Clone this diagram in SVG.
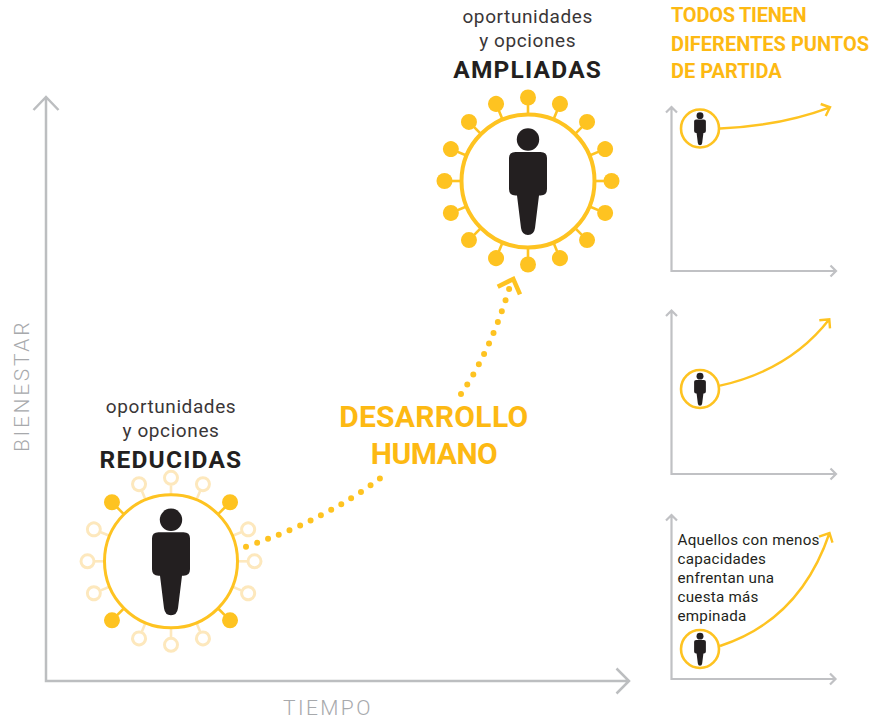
<svg xmlns="http://www.w3.org/2000/svg" width="870" height="720" viewBox="0 0 870 720">
<style>
text{font-family:"Roboto","Liberation Sans",sans-serif}
.axis{fill:none;stroke:#bcbec0;stroke-width:2.5}
.axs{fill:none;stroke:#c0c1c4;stroke-width:2.2}
.lab{fill:#a7a9ac;font-size:21px;font-weight:300}
.op{fill:#3a3637;font-size:19px;text-anchor:middle;letter-spacing:.6px}
.big{fill:#231f20;font-size:24.5px;font-weight:700;text-anchor:middle;letter-spacing:1.2px}
.dh{fill:#fdb913;font-size:30px;font-weight:700;text-anchor:middle}
.tt{fill:#fdb913;font-size:20px;font-weight:700}
.sm{fill:#231f20;font-size:15.2px;letter-spacing:.25px}
.ring{fill:#fff;stroke:#fec321;stroke-width:4}
.ringl{fill:#fff;stroke:#fec321;stroke-width:3}
.ringm{fill:#fff;stroke:#fec321;stroke-width:2.6}
.curve{fill:none;stroke:#fec321;stroke-width:2.4}
.dots{fill:none;stroke:#fec321;stroke-width:6;stroke-linecap:round;stroke-dasharray:0 11.6}
.head{fill:none;stroke:#fec321;stroke-width:4.500}
.solid line{stroke:#fec321;stroke-width:2.6}
.solid circle{fill:#fec321}
.hollow line{stroke:#fde8bd;stroke-width:2.6}
.hollow circle{fill:#fff;stroke:#fde8bd;stroke-width:3}
</style>
<defs>
<g id="person" fill="#231f20">
<circle cx="0" cy="-41.5" r="11.2"/>
<path d="M-12.5,-29H12.5Q19,-29 19,-23V8Q19,14.5 12.5,14.5H11L7,47Q6,54 0,54Q-6,54 -7,47L-11,14.5H-12.5Q-19,14.5 -19,8V-23Q-19,-29 -12.5,-29Z"/>
</g>
<g id="sats" class="solid"><line y1="-66" y2="-80"/><circle cy="-83.5" r="8"/></g>
<g id="sath" class="hollow"><line y1="-66" y2="-76"/><circle cy="-83.5" r="6.5"/></g>
</defs>

<g id="connectors">
<path class="axis" d="M46,97V681H629M33.500,110L46,97L58.500,110M616.500,668.500L629,681L616.500,693.500"/>
<path class="axs" d="M671.500,107V271H836M666,112.500L671.500,107L677,112.500M830.500,265.500L836,271L830.500,276.500"/>
<path class="axs" d="M671.500,310.500V474H836M666,316L671.500,310.500L677,316M830.500,468.500L836,474L830.500,479.500"/>
<path class="axs" d="M671.500,515V679H835.500M666,520.500L671.500,515L677,520.500M830,673.500L835.500,679L830,684.500"/>
<path class="dots" d="M246,546.700Q323.500,520.900 380.700,478"/>
<path class="dots" d="M461,394Q490,352 509.300,288.300"/>
<path class="head" d="M497.700,286.700L513.300,279L520,294.300"/>
<path class="curve" d="M720,128.500Q780,126 830,107.300M820.700,104L830,107.300L825.700,116"/>
<path class="curve" d="M720,385.700Q790,370 829.300,319.300M819.300,320.300L829.300,319.300L830,328.300"/>
<path class="curve" d="M720,646Q800,620 829.500,533M819,536.700L829.500,533L832.500,542.700"/>
</g>

<g id="node-ampliadas">
<g transform="translate(528,181)">
<use href="#sats"/><use href="#sats" transform="rotate(22.500)"/><use href="#sats" transform="rotate(45)"/><use href="#sats" transform="rotate(67.500)"/><use href="#sats" transform="rotate(90)"/><use href="#sats" transform="rotate(112.500)"/><use href="#sats" transform="rotate(135)"/><use href="#sats" transform="rotate(157.500)"/><use href="#sats" transform="rotate(180)"/><use href="#sats" transform="rotate(202.500)"/><use href="#sats" transform="rotate(225)"/><use href="#sats" transform="rotate(247.500)"/><use href="#sats" transform="rotate(270)"/><use href="#sats" transform="rotate(292.500)"/><use href="#sats" transform="rotate(315)"/><use href="#sats" transform="rotate(337.500)"/>
<circle class="ring" r="66.500"/>
<use href="#person"/>
</g>
<text class="op" x="527.700" y="23.300">oportunidades</text>
<text class="op" x="527.700" y="47">y opciones</text>
<text class="big" x="527.700" y="77.700">AMPLIADAS</text>
</g>

<g id="node-reducidas">
<g transform="translate(171,561.300)">
<use href="#sath"/><use href="#sath" transform="rotate(22.500)"/><use href="#sats" transform="rotate(45)"/><use href="#sath" transform="rotate(67.500)"/><use href="#sath" transform="rotate(90)"/><use href="#sath" transform="rotate(112.500)"/><use href="#sats" transform="rotate(135)"/><use href="#sath" transform="rotate(157.500)"/><use href="#sath" transform="rotate(180)"/><use href="#sath" transform="rotate(202.500)"/><use href="#sats" transform="rotate(225)"/><use href="#sath" transform="rotate(247.500)"/><use href="#sath" transform="rotate(270)"/><use href="#sath" transform="rotate(292.500)"/><use href="#sats" transform="rotate(315)"/><use href="#sath" transform="rotate(337.500)"/>
<circle class="ringl" r="66.500"/>
<use href="#person"/>
</g>
<text class="op" x="171" y="412.700">oportunidades</text>
<text class="op" x="171" y="436.700">y opciones</text>
<text class="big" x="171" y="468.300">REDUCIDAS</text>
</g>

<g id="label-desarrollo">
<text class="dh" x="433.800" y="427.300" letter-spacing=".3">DESARROLLO</text>
<text class="dh" x="434" y="464" letter-spacing="-.5">HUMANO</text>
</g>

<g id="label-todos">
<text class="tt" x="671" y="22" letter-spacing="-.25">TODOS TIENEN</text>
<text class="tt" x="671" y="50.700">DIFERENTES PUNTOS</text>
<text class="tt" x="671" y="77.700">DE PARTIDA</text>
</g>

<g id="axis-labels">
<text class="lab" transform="translate(28.700,452) rotate(-90)" letter-spacing="2.700">BIENESTAR</text>
<text class="lab" x="283" y="715" letter-spacing="2.400">TIEMPO</text>
</g>

<g id="node-small-1">
<circle class="ringm" cx="700" cy="128.500" r="19"/>
<use href="#person" transform="translate(700,128.500) scale(.31)"/>
</g>
<g id="node-small-2">
<circle class="ringm" cx="700" cy="389" r="19"/>
<use href="#person" transform="translate(700,389) scale(.31)"/>
</g>
<g id="node-small-3">
<circle class="ringm" cx="700" cy="649" r="19"/>
<use href="#person" transform="translate(700,649) scale(.31)"/>
</g>

<g id="label-aquellos">
<text class="sm" x="677.500" y="545">Aquellos con menos</text>
<text class="sm" x="677.500" y="564">capacidades</text>
<text class="sm" x="677.500" y="582.700">enfrentan una</text>
<text class="sm" x="677.500" y="601.700">cuesta más</text>
<text class="sm" x="677.500" y="620.700">empinada</text>
</g>
</svg>
